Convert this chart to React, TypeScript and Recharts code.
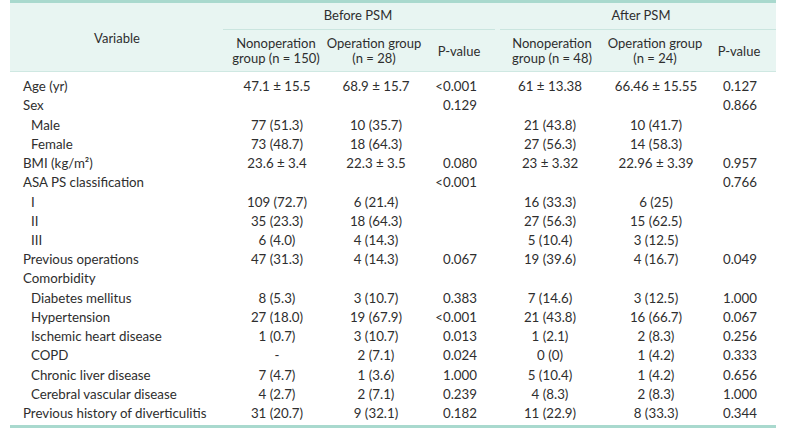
import { ScatterChart, Scatter, XAxis, YAxis, Customized } from 'recharts';

// row labels (first column)
const variables = [
  'Age (yr)',
  'Sex',
  'Male',
  'Female',
  'BMI (kg/m²)',
  'ASA PS classification',
  'I',
  'II',
  'III',
  'Previous operations',
  'Comorbidity',
  'Diabetes mellitus',
  'Hypertension',
  'Ischemic heart disease',
  'COPD',
  'Chronic liver disease',
  'Cerebral vascular disease',
  'Previous history of diverticulitis',
];
const subItems = [
  'Male', 'Female', 'I', 'II', 'III', 'Diabetes mellitus', 'Hypertension',
  'Ischemic heart disease', 'COPD', 'Chronic liver disease', 'Cerebral vascular disease',
];

// Before PSM
const beforeNonop = ['47.1 ± 15.5', '', '77 (51.3)', '73 (48.7)', '23.6 ± 3.4', '', '109 (72.7)', '35 (23.3)', '6 (4.0)', '47 (31.3)', '', '8 (5.3)', '27 (18.0)', '1 (0.7)', '-', '7 (4.7)', '4 (2.7)', '31 (20.7)'];
const beforeOp = ['68.9 ± 15.7', '', '10 (35.7)', '18 (64.3)', '22.3 ± 3.5', '', '6 (21.4)', '18 (64.3)', '4 (14.3)', '4 (14.3)', '', '3 (10.7)', '19 (67.9)', '3 (10.7)', '2 (7.1)', '1 (3.6)', '2 (7.1)', '9 (32.1)'];
const beforeP = ['<0.001', '0.129', '', '', '0.080', '<0.001', '', '', '', '0.067', '', '0.383', '<0.001', '0.013', '0.024', '1.000', '0.239', '0.182'];

// After PSM
const afterNonop = ['61 ± 13.38', '', '21 (43.8)', '27 (56.3)', '23 ± 3.32', '', '16 (33.3)', '27 (56.3)', '5 (10.4)', '19 (39.6)', '', '7 (14.6)', '21 (43.8)', '1 (2.1)', '0 (0)', '5 (10.4)', '4 (8.3)', '11 (22.9)'];
const afterOp = ['66.46 ± 15.55', '', '10 (41.7)', '14 (58.3)', '22.96 ± 3.39', '', '6 (25)', '15 (62.5)', '3 (12.5)', '4 (16.7)', '', '3 (12.5)', '16 (66.7)', '2 (8.3)', '1 (4.2)', '1 (4.2)', '2 (8.3)', '8 (33.3)'];
const afterP = ['0.127', '0.866', '', '', '0.957', '0.766', '', '', '', '0.049', '', '1.000', '0.067', '0.256', '0.333', '0.656', '1.000', '0.344'];

const FONT = 'Lato, "Noto Sans", sans-serif';
const TEXT = '#2e2e2e';
const W = 792;
const H = 430;

// column layout: x position + text anchor
const columns = [
  { key: 'label', x: 23, anchor: 'start', values: variables },
  { key: 'bNon', x: 277, anchor: 'middle', values: beforeNonop },
  { key: 'bOp', x: 376, anchor: 'middle', values: beforeOp },
  { key: 'bP', x: 477, anchor: 'end', values: beforeP },
  { key: 'aNon', x: 550, anchor: 'middle', values: afterNonop },
  { key: 'aOp', x: 656, anchor: 'middle', values: afterOp },
  { key: 'aP', x: 757, anchor: 'end', values: afterP },
];

const Header = () => (
  <g fontFamily={FONT} fontSize={13} fill={TEXT}>
    <rect x={10} y={0} width={766} height={71} fill="#e8f5f2" />
    <rect x={10} y={0} width={766} height={3} fill="#a9d9ce" />
    <line x1={223} x2={495} y1={29.5} y2={29.5} stroke="#cae5df" />
    <line x1={500} x2={776} y1={29.5} y2={29.5} stroke="#cae5df" />
    <line x1={10} x2={776} y1={71.5} y2={71.5} stroke="#cfe8e2" />
    <text x={117} y={38} dy="0.35em" textAnchor="middle">Variable</text>
    <text x={358} y={15} dy="0.35em" textAnchor="middle">Before PSM</text>
    <text x={641} y={15} dy="0.35em" textAnchor="middle">After PSM</text>
    <text x={276} y={43} dy="0.35em" textAnchor="middle">Nonoperation</text>
    <text x={276} y={58} dy="0.35em" textAnchor="middle">group (n = 150)</text>
    <text x={374} y={43} dy="0.35em" textAnchor="middle">Operation group</text>
    <text x={374} y={58} dy="0.35em" textAnchor="middle">(n = 28)</text>
    <text x={459} y={51} dy="0.35em" textAnchor="middle">P-value</text>
    <text x={552} y={43} dy="0.35em" textAnchor="middle">Nonoperation</text>
    <text x={552} y={58} dy="0.35em" textAnchor="middle">group (n = 48)</text>
    <text x={655} y={43} dy="0.35em" textAnchor="middle">Operation group</text>
    <text x={655} y={58} dy="0.35em" textAnchor="middle">(n = 24)</text>
    <text x={739} y={51} dy="0.35em" textAnchor="middle">P-value</text>
    <rect x={10} y={425} width={766} height={3} fill="#a9d9ce" />
  </g>
);

export default function App() {
  return (
    <div style={{ position: 'absolute', left: 0, top: 0, width: W, height: H, background: '#fff' }}>
      <ScatterChart width={W} height={H} margin={{ top: 77, right: 0, bottom: 7, left: 0 }}>
        <Customized component={<Header />} />
        <XAxis type="number" dataKey="x" domain={[0, W]} hide />
        <YAxis type="number" dataKey="row" domain={[-0.5, variables.length - 0.5]} reversed hide />
        {columns.map((col) => (
          <Scatter
            key={col.key}
            isAnimationActive={false}
            data={variables
              .map((v, i) => ({ x: col.x, row: i, text: col.values[i], indent: subItems.includes(v) }))
              .filter((d) => d.text !== '')}
            shape={(p: any) => (
              <text
                x={p.cx + (col.key === 'label' && p.payload.indent ? 8 : 0)}
                y={p.cy}
                dy="0.35em"
                textAnchor={col.anchor}
                fontFamily={FONT}
                fontSize={13.3}
                fill={TEXT}
              >
                {p.payload.text}
              </text>
            )}
          />
        ))}
      </ScatterChart>
    </div>
  );
}
